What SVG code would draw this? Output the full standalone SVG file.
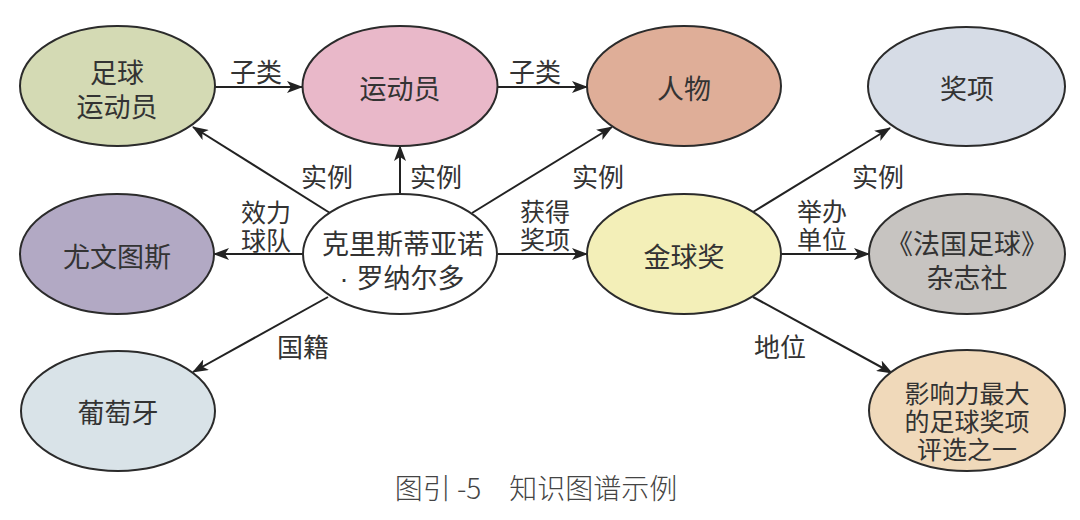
<svg xmlns="http://www.w3.org/2000/svg" width="1080" height="520" viewBox="0 0 1080 520">
<style>
.node ellipse{stroke:#2b2b2b;stroke-width:2}
.nt{font-family:"Liberation Sans","Noto Sans CJK SC",sans-serif;font-size:27px;fill:#333;text-anchor:middle;dominant-baseline:central}
.nt3{font-family:"Liberation Sans","Noto Sans CJK SC",sans-serif;font-size:25px;fill:#333;text-anchor:middle;dominant-baseline:central}
.lt{font-family:"Liberation Sans","Noto Sans CJK SC",sans-serif;font-size:26px;fill:#333;text-anchor:middle;dominant-baseline:central}
.lt2{font-family:"Liberation Sans","Noto Sans CJK SC",sans-serif;font-size:25px;fill:#333;text-anchor:middle;dominant-baseline:central}
.edge{stroke:#222;stroke-width:2;fill:none;marker-end:url(#arr)}
.cap{font-family:"Noto Sans CJK SC","Noto Sans",sans-serif;font-size:28px;font-weight:300;fill:#444;text-anchor:middle;dominant-baseline:central}
</style>
<defs>
<marker id="arr" markerUnits="userSpaceOnUse" markerWidth="16" markerHeight="12" refX="15" refY="6" orient="auto" viewBox="0 0 16 12">
<path d="M0,0 L16,6 L0,12 L4,6 z" fill="#222"/>
</marker>
</defs>
<rect width="1080" height="520" fill="#ffffff"/>
<g id="connectors">
<line class="edge" x1="215" y1="87" x2="302" y2="87"/>
<line class="edge" x1="497" y1="87" x2="587" y2="87"/>
<line class="edge" x1="330" y1="213" x2="193" y2="127"/>
<line class="edge" x1="400" y1="195" x2="400" y2="146"/>
<line class="edge" x1="472" y1="213" x2="612" y2="127"/>
<line class="edge" x1="303" y1="254" x2="214" y2="254"/>
<line class="edge" x1="328" y1="297" x2="193" y2="372"/>
<line class="edge" x1="498" y1="254" x2="587" y2="254"/>
<line class="edge" x1="753" y1="212" x2="890" y2="128"/>
<line class="edge" x1="781" y1="254" x2="869" y2="254"/>
<line class="edge" x1="753" y1="297" x2="892" y2="373"/>
<text class="lt" x="256" y="73">子类</text>
<text class="lt" x="535" y="73">子类</text>
<text class="lt" x="327" y="178">实例</text>
<text class="lt" x="436" y="178">实例</text>
<text class="lt" x="598" y="178">实例</text>
<text class="lt" x="878" y="178">实例</text>
<text class="lt2"><tspan x="266" y="213">效力</tspan><tspan x="266" y="241">球队</tspan></text>
<text class="lt2"><tspan x="545" y="212">获得</tspan><tspan x="545" y="240">奖项</tspan></text>
<text class="lt2"><tspan x="822" y="212">举办</tspan><tspan x="822" y="240">单位</tspan></text>
<text class="lt" x="303" y="348">国籍</text>
<text class="lt" x="780" y="348">地位</text>
</g>
<g id="n-football-player" class="node">
<ellipse cx="117.5" cy="86" rx="97.5" ry="60" fill="#d4dab4"/>
<text class="nt"><tspan x="117" y="74">足球</tspan><tspan x="117" y="108">运动员</tspan></text>
</g>
<g id="n-athlete" class="node">
<ellipse cx="400" cy="86" rx="97.5" ry="60" fill="#e9b8c9"/>
<text class="nt" x="400" y="90">运动员</text>
</g>
<g id="n-person" class="node">
<ellipse cx="684" cy="86" rx="97" ry="60" fill="#dfae98"/>
<text class="nt" x="684" y="90">人物</text>
</g>
<g id="n-award" class="node">
<ellipse cx="966.5" cy="86.5" rx="98.5" ry="59.5" fill="#d6dce6"/>
<text class="nt" x="967" y="90">奖项</text>
</g>
<g id="n-juventus" class="node">
<ellipse cx="117" cy="254" rx="97" ry="60" fill="#b2a9c4"/>
<text class="nt" x="117" y="258">尤文图斯</text>
</g>
<g id="n-ronaldo" class="node">
<ellipse cx="400" cy="254" rx="97" ry="60" fill="#ffffff"/>
<text class="nt"><tspan x="403" y="245">克里斯蒂亚诺</tspan><tspan x="402" y="279">·<tspan dx="8">罗纳尔多</tspan></tspan></text>
</g>
<g id="n-ballon-dor" class="node">
<ellipse cx="684" cy="254" rx="97" ry="60" fill="#f3efb8"/>
<text class="nt" x="684" y="258">金球奖</text>
</g>
<g id="n-france-football" class="node">
<ellipse cx="967" cy="254" rx="98" ry="60" fill="#c7c4c1"/>
<text class="nt"><tspan x="967" y="245">《法国足球》</tspan><tspan x="967" y="279">杂志社</tspan></text>
</g>
<g id="n-portugal" class="node">
<ellipse cx="118" cy="411" rx="97" ry="60" fill="#d9e3e8"/>
<text class="nt" x="118" y="414">葡萄牙</text>
</g>
<g id="n-influence" class="node">
<ellipse cx="967" cy="410.5" rx="98" ry="60.5" fill="#f0d9ba"/>
<text class="nt3"><tspan x="967" y="394">影响力最大</tspan><tspan x="967" y="422">的足球奖项</tspan><tspan x="967" y="450">评选之一</tspan></text>
</g>
<text class="cap" x="536" y="487">图引 -5　知识图谱示例</text>
</svg>
